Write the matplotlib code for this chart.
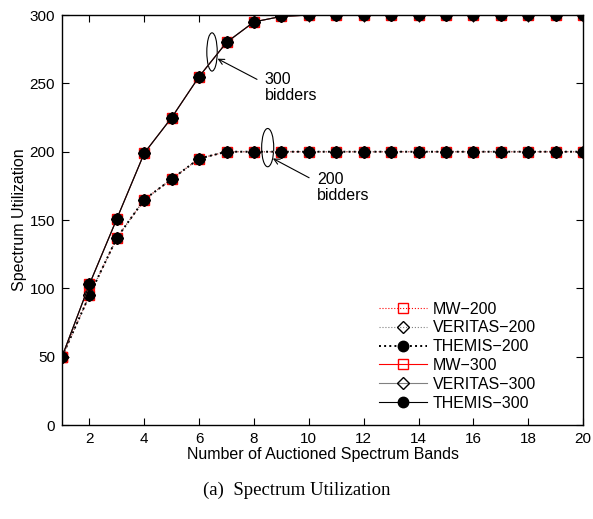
import matplotlib
matplotlib.use("Agg")
import matplotlib.pyplot as plt
from matplotlib.patches import Ellipse

plt.rcParams['font.family'] = ['Liberation Sans', 'DejaVu Sans']

# number of auctioned bands
bands = list(range(1, 21))

# spectrum utilization, 200 bidders
mw_200 = [50, 95, 137, 165, 180, 195, 200, 200, 200, 200, 200, 200, 200, 200, 200, 200, 200, 200, 200, 200]
veritas_200 = [50, 95, 137, 165, 180, 195, 200, 200, 200, 200, 200, 200, 200, 200, 200, 200, 200, 200, 200, 200]
themis_200 = [50, 95, 137, 165, 180, 195, 200, 200, 200, 200, 200, 200, 200, 200, 200, 200, 200, 200, 200, 200]

# spectrum utilization, 300 bidders
mw_300 = [50, 103, 151, 199, 225, 255, 280, 295, 299, 300, 300, 300, 300, 300, 300, 300, 300, 300, 300, 300]
veritas_300 = [50, 103, 151, 199, 225, 255, 280, 295, 299, 300, 300, 300, 300, 300, 300, 300, 300, 300, 300, 300]
themis_300 = [50, 103, 151, 199, 225, 255, 280, 295, 299, 300, 300, 300, 300, 300, 300, 300, 300, 300, 300, 300]

fig = plt.figure(figsize=(5.93, 5.19), dpi=100)
ax = fig.add_axes([0.1046, 0.181, 0.8786, 0.790])

ax.plot(bands, mw_200, ':', color='red', lw=0.8, marker='s', ms=6.5, mfc='none', mec='red', label='MW\u2212200')
ax.plot(bands, veritas_200, ':', color='gray', lw=0.8, marker='D', ms=6, mfc='none', mec='black', label='VERITAS\u2212200')
ax.plot(bands, themis_200, ':', color='black', lw=1.4, marker='o', ms=7.5, mfc='black', mec='black', label='THEMIS\u2212200')
ax.plot(bands, mw_300, '-', color='red', lw=0.8, marker='s', ms=6.5, mfc='none', mec='red', label='MW\u2212300')
ax.plot(bands, veritas_300, '-', color='gray', lw=0.8, marker='D', ms=6, mfc='none', mec='black', label='VERITAS\u2212300')
ax.plot(bands, themis_300, '-', color='black', lw=0.8, marker='o', ms=7.5, mfc='black', mec='black', label='THEMIS\u2212300')

ax.set_xlim(1, 20)
ax.set_ylim(0, 300)
ax.set_xticks(range(2, 21, 2))
ax.set_yticks(range(0, 301, 50))
ax.tick_params(direction='in', top=True, right=True, labelsize=11, length=5, pad=5)
for s in ax.spines.values():
    s.set_linewidth(1.0)

ax.set_xlabel('Number of Auctioned Spectrum Bands', fontsize=11.5, labelpad=1)
ax.set_ylabel('Spectrum Utilization', fontsize=11.5, labelpad=2)

# annotations
ax.add_patch(Ellipse((6.47, 273), 0.38, 28, fill=False, lw=0.8, color='black'))
ax.add_patch(Ellipse((8.5, 203), 0.44, 28, fill=False, lw=0.8, color='black'))
ax.annotate('', xy=(6.58, 269), xytext=(8.2, 252),
            arrowprops=dict(arrowstyle='->', lw=0.8, color='black'))
ax.annotate('', xy=(8.6, 196), xytext=(10.1, 180),
            arrowprops=dict(arrowstyle='->', lw=0.8, color='black'))
ax.text(8.4, 258, '300\nbidders', fontsize=11.5, va='top', ha='left', linespacing=1.05)
ax.text(10.3, 185, '200\nbidders', fontsize=11.5, va='top', ha='left', linespacing=1.05)

ax.legend(loc='lower right', frameon=False, fontsize=11.5, handlelength=3.0,
          handletextpad=0.4, labelspacing=0.24, bbox_to_anchor=(0.938, 0.0))

fig.text(0.5, 0.056, '(a)  Spectrum Utilization', ha='center', va='center',
         fontsize=13.5, family='Liberation Serif')

fig.savefig('out.png', dpi=100)
